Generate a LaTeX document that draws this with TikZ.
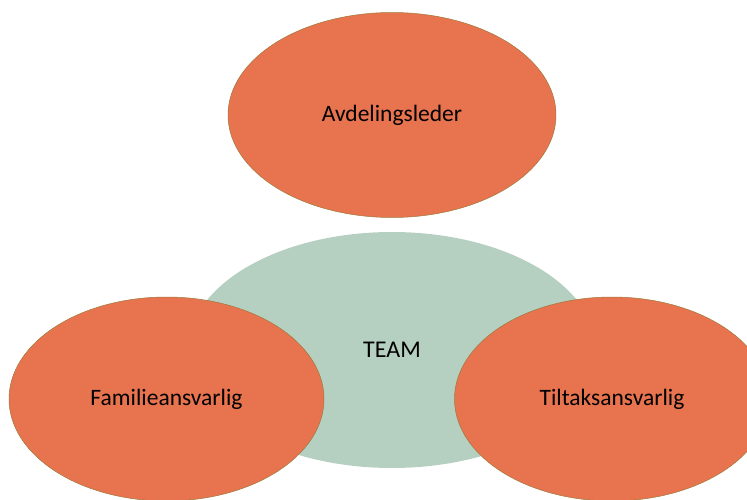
\documentclass[tikz,border=0pt]{standalone}
\usepackage{fontspec}
\setmainfont{Carlito}
\usetikzlibrary{shapes.geometric}
\definecolor{rolefill}{HTML}{E8734F}
\definecolor{roleline}{HTML}{9C7A3C}
\definecolor{teamfill}{HTML}{B5CFC0}
\tikzstyle{role} = [ellipse, fill=rolefill, draw=roleline, line width=0.5pt, inner sep=0pt, minimum width=315pt, minimum height=204pt, font=\fontsize{23.5}{28}\selectfont]
\tikzstyle{team} = [ellipse, fill=teamfill, inner sep=0pt, minimum width=408pt, minimum height=236pt, font=\fontsize{24}{29}\selectfont]

\begin{document}
\begin{tikzpicture}[x=1pt, y=-1pt]
	\useasboundingbox (0, 0) rectangle (747, 500);

	\node[team](team) at (392, 350){TEAM};
	\node[role, minimum width=328pt, minimum height=205pt](leder) at (392, 115){Avdelingsleder};
	\node[role](familie) at (166.5, 399){Familieansvarlig};
	\node[role](tiltak) at (612, 399){Tiltaksansvarlig};
\end{tikzpicture}
\end{document}
